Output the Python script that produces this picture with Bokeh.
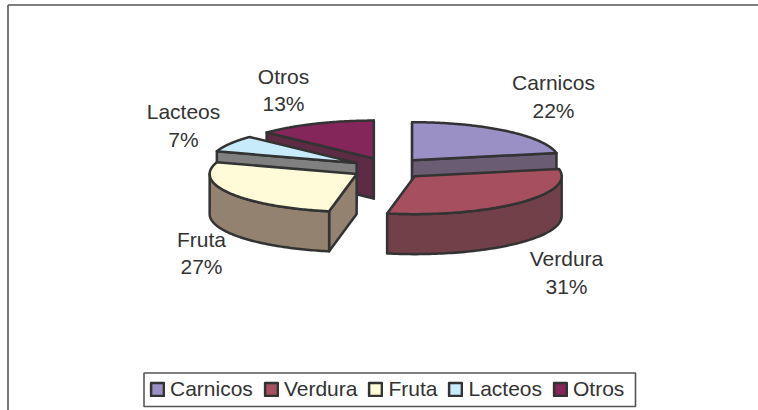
import numpy as np
from bokeh.plotting import figure
from bokeh.models import Legend, LegendItem, Range1d
from bokeh.core.properties import value
from bokeh.embed import file_html
from bokeh.resources import INLINE

# data
categories = ["Carnicos", "Verdura", "Fruta", "Lacteos", "Otros"]
shares = [22, 31, 27, 7, 13]

# styles
top_colors = ["#9A90C6", "#A6505F", "#FFFBD9", "#C8EBFB", "#84265A"]
side_colors = ["#6A5C72", "#724049", "#93826F", "#808080", "#5E2B44"]
edge = "#333333"
text_color = "#333333"
font = "Liberation Sans"

# pie layout (page pixels)
W, H = 758, 410
cx, cy = 388.0, 168.0
a, b = 147.0, 38.0
depth = 40.0
explode_x, explode_y = 37.0, 10.8

# label layout
label_x = [553, 566, 201, 183, 283]
label_name_y = [82, 258, 239, 111, 76]
label_pct_y = [110, 286, 266, 139, 103]
draw_order = [4, 3, 2, 0, 1]

p = figure(width=W, height=H, output_backend="svg", toolbar_location=None,
           x_range=Range1d(0, W), y_range=Range1d(H, 0),
           min_border=0, outline_line_color=None, background_fill_color="white",
           x_axis_type=None, y_axis_type=None)
p.grid.visible = False
p.margin = (0, 0, 0, 0)

# chart-area frame: only the top and left edges are in the picture
p.segment(x0=[7.5, 7.5], y0=[4.5, 4.5], x1=[W, 7.5], y1=[4.5, H],
          line_color="#555555", line_width=1.6)

bounds = np.cumsum([0] + shares) / sum(shares) * 2 * np.pi


def point(c, t):
    return c[0] + a * np.sin(t), c[1] - b * np.cos(t)


renderers = {}
for i in draw_order:
    t0, t1 = bounds[i], bounds[i + 1]
    mid = (t0 + t1) / 2
    c = (cx + explode_x * np.sin(mid), cy - explode_y * np.cos(mid))
    kw = dict(line_color=edge, line_width=2.5, line_join="round")

    # radial cut walls that face the viewer
    for t, normal in ((t0, t0 - np.pi / 2), (t1, t1 + np.pi / 2)):
        if np.cos(normal) < 1e-6:
            px, py = point(c, t)
            p.patch([c[0], px, px, c[0]], [c[1], py, py + depth, c[1] + depth],
                    fill_color=side_colors[i], **kw)

    # outer rim on the front half
    r0, r1 = max(t0, np.pi / 2), min(t1, 3 * np.pi / 2)
    if r1 > r0:
        ts = np.linspace(r0, r1, 80)
        xs, ys = point(c, ts)
        p.patch(np.r_[xs, xs[::-1]], np.r_[ys, ys[::-1] + depth],
                fill_color=side_colors[i], **kw)

    # top face
    ts = np.linspace(t0, t1, 120)
    xs, ys = point(c, ts)
    renderers[i] = p.patch(np.r_[c[0], xs], np.r_[c[1], ys],
                           fill_color=top_colors[i], **kw)

txt = dict(text_font=value(font), text_font_size="21px", text_color=text_color,
           text_align="center", text_baseline="middle")
p.text(x=label_x, y=label_name_y, text=categories, **txt)
p.text(x=label_x, y=label_pct_y, text=[f"{v}%" for v in shares], **txt)

# legend frame, then the legend itself without a border of its own
p.quad(left=[143.5], right=[635], top=[372.5], bottom=[406],
       fill_color="white", line_color="#555555", line_width=1.6)
legend = Legend(
    items=[LegendItem(label=n, renderers=[renderers[i]]) for i, n in enumerate(categories)],
    orientation="horizontal", location=(149, 9),
    glyph_width=16, glyph_height=16, label_standoff=5, spacing=10,
    padding=5, margin=0,
    label_text_font=font, label_text_font_size="21px", label_text_color=text_color,
    border_line_color=None, background_fill_alpha=0,
)
p.add_layout(legend, "center")

open("out.html", "w").write(file_html(p, INLINE))
